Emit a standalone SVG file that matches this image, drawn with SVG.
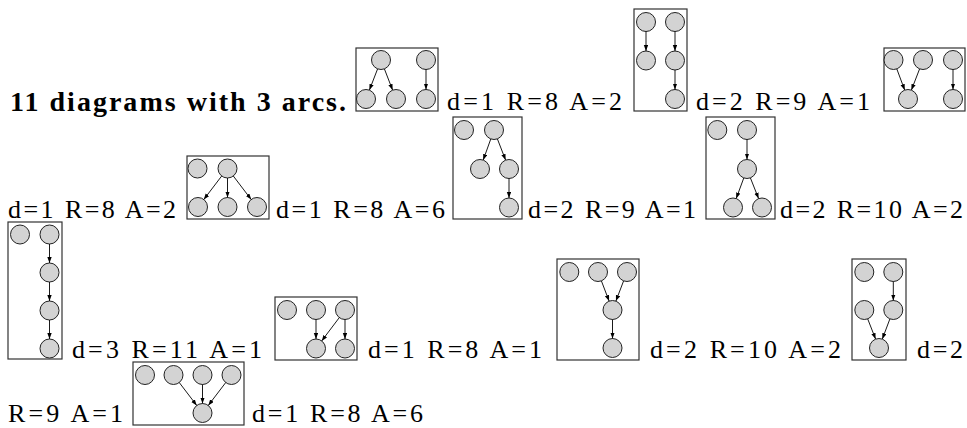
<svg xmlns="http://www.w3.org/2000/svg" width="967" height="428" viewBox="0 0 967 428">
<style>
.t{font-family:"Liberation Serif","Times New Roman",serif;font-size:26px;fill:#000}
.b{font-weight:bold;font-size:28px}
.box{fill:none;stroke:#333;stroke-width:1.2}
.n{fill:#d3d3d3;stroke:#222;stroke-width:1}
.e{stroke:#000;stroke-width:0.9;fill:none;marker-end:url(#ah)}
</style>
<defs>
<marker id="ah" markerUnits="userSpaceOnUse" markerWidth="7" markerHeight="5" refX="6" refY="2.2" orient="auto">
<path d="M0,0 L6,2.2 L0,4.4 z" fill="#000"/>
</marker>
</defs>
<rect width="967" height="428" fill="#fff"/>
<g id="labels">
<text class="t b" x="10" y="111" textLength="336" lengthAdjust="spacing">11 diagrams with 3 arcs.</text>
<text class="t" x="447" y="110" textLength="175" lengthAdjust="spacing">d=1 R=8 A=2</text>
<text class="t" x="696" y="110" textLength="174" lengthAdjust="spacing">d=2 R=9 A=1</text>
<text class="t" x="8" y="218" textLength="168" lengthAdjust="spacing">d=1 R=8 A=2</text>
<text class="t" x="276" y="218" textLength="169" lengthAdjust="spacing">d=1 R=8 A=6</text>
<text class="t" x="528" y="218" textLength="168" lengthAdjust="spacing">d=2 R=9 A=1</text>
<text class="t" x="780" y="218" textLength="183" lengthAdjust="spacing">d=2 R=10 A=2</text>
<text class="t" x="72" y="358" textLength="190" lengthAdjust="spacing">d=3 R=11 A=1</text>
<text class="t" x="368" y="358" textLength="174" lengthAdjust="spacing">d=1 R=8 A=1</text>
<text class="t" x="650" y="358" textLength="191" lengthAdjust="spacing">d=2 R=10 A=2</text>
<text class="t" x="917" y="358" textLength="46" lengthAdjust="spacing">d=2</text>
<text class="t" x="8" y="422" textLength="115" lengthAdjust="spacing">R=9 A=1</text>
<text class="t" x="252" y="422" textLength="171" lengthAdjust="spacing">d=1 R=8 A=6</text>
</g>
<g id="d1">
<rect class="box" x="356" y="48" width="82" height="63"/>
<circle id="d1n1" class="n" cx="381" cy="60" r="9.5"/>
<circle id="d1n2" class="n" cx="426" cy="60" r="9.5"/>
<circle id="d1n3" class="n" cx="366" cy="99" r="9.5"/>
<circle id="d1n4" class="n" cx="396" cy="99" r="9.5"/>
<circle id="d1n5" class="n" cx="426" cy="99" r="9.5"/>
</g>
<g id="d2">
<rect class="box" x="634" y="9" width="53" height="102"/>
<circle id="d2n1" class="n" cx="646" cy="22" r="9.5"/>
<circle id="d2n2" class="n" cx="675" cy="22" r="9.5"/>
<circle id="d2n3" class="n" cx="646" cy="60.5" r="9.5"/>
<circle id="d2n4" class="n" cx="675" cy="60.5" r="9.5"/>
<circle id="d2n5" class="n" cx="675" cy="99" r="9.5"/>
</g>
<g id="d3">
<rect class="box" x="884" y="48" width="81" height="63"/>
<circle id="d3n1" class="n" cx="893.5" cy="60" r="9.5"/>
<circle id="d3n2" class="n" cx="923" cy="60" r="9.5"/>
<circle id="d3n3" class="n" cx="953" cy="60" r="9.5"/>
<circle id="d3n4" class="n" cx="908" cy="99" r="9.5"/>
<circle id="d3n5" class="n" cx="953" cy="99" r="9.5"/>
</g>
<g id="d4">
<rect class="box" x="187" y="156" width="82" height="63"/>
<circle id="d4n1" class="n" cx="197.5" cy="168.5" r="9.5"/>
<circle id="d4n2" class="n" cx="227.5" cy="168.5" r="9.5"/>
<circle id="d4n3" class="n" cx="198" cy="207" r="9.5"/>
<circle id="d4n4" class="n" cx="227.5" cy="207" r="9.5"/>
<circle id="d4n5" class="n" cx="257" cy="207" r="9.5"/>
</g>
<g id="d5">
<rect class="box" x="453" y="117" width="69" height="102"/>
<circle id="d5n1" class="n" cx="464" cy="130" r="9.5"/>
<circle id="d5n2" class="n" cx="494" cy="130" r="9.5"/>
<circle id="d5n3" class="n" cx="480" cy="169" r="9.5"/>
<circle id="d5n4" class="n" cx="509" cy="169" r="9.5"/>
<circle id="d5n5" class="n" cx="509" cy="207.5" r="9.5"/>
</g>
<g id="d6">
<rect class="box" x="706" y="117" width="69" height="102"/>
<circle id="d6n1" class="n" cx="717.3" cy="130" r="9.5"/>
<circle id="d6n2" class="n" cx="747" cy="130" r="9.5"/>
<circle id="d6n3" class="n" cx="747" cy="169" r="9.5"/>
<circle id="d6n4" class="n" cx="733" cy="207.5" r="9.5"/>
<circle id="d6n5" class="n" cx="762" cy="207.5" r="9.5"/>
</g>
<g id="d7">
<rect class="box" x="8" y="222" width="54" height="137"/>
<circle id="d7n1" class="n" cx="20" cy="234.5" r="9.5"/>
<circle id="d7n2" class="n" cx="49.5" cy="234.5" r="9.5"/>
<circle id="d7n3" class="n" cx="49.5" cy="272.5" r="9.5"/>
<circle id="d7n4" class="n" cx="49.5" cy="310.5" r="9.5"/>
<circle id="d7n5" class="n" cx="49.5" cy="348.5" r="9.5"/>
</g>
<g id="d8">
<rect class="box" x="275" y="297" width="82" height="63"/>
<circle id="d8n1" class="n" cx="287" cy="310" r="9.5"/>
<circle id="d8n2" class="n" cx="316" cy="310" r="9.5"/>
<circle id="d8n3" class="n" cx="345" cy="310" r="9.5"/>
<circle id="d8n4" class="n" cx="316" cy="348.5" r="9.5"/>
<circle id="d8n5" class="n" cx="345" cy="348.5" r="9.5"/>
</g>
<g id="d9">
<rect class="box" x="557" y="259" width="82" height="101"/>
<circle id="d9n1" class="n" cx="569.3" cy="272" r="9.5"/>
<circle id="d9n2" class="n" cx="598" cy="272" r="9.5"/>
<circle id="d9n3" class="n" cx="627" cy="272" r="9.5"/>
<circle id="d9n4" class="n" cx="612.5" cy="310" r="9.5"/>
<circle id="d9n5" class="n" cx="612.5" cy="348" r="9.5"/>
</g>
<g id="d10">
<rect class="box" x="852" y="259" width="54" height="101"/>
<circle id="d10n1" class="n" cx="864.3" cy="272" r="9.5"/>
<circle id="d10n2" class="n" cx="893.3" cy="272" r="9.5"/>
<circle id="d10n3" class="n" cx="864.3" cy="310" r="9.5"/>
<circle id="d10n4" class="n" cx="893.3" cy="310" r="9.5"/>
<circle id="d10n5" class="n" cx="879" cy="348" r="9.5"/>
</g>
<g id="d11">
<rect class="box" x="133" y="362" width="111" height="63"/>
<circle id="d11n1" class="n" cx="145" cy="375" r="9.5"/>
<circle id="d11n2" class="n" cx="173.5" cy="375" r="9.5"/>
<circle id="d11n3" class="n" cx="202.5" cy="375" r="9.5"/>
<circle id="d11n4" class="n" cx="231.5" cy="375" r="9.5"/>
<circle id="d11n5" class="n" cx="202.5" cy="413" r="9.5"/>
</g>
<g id="connectors">
<line class="e" x1="377.6" y1="68.9" x2="369.4" y2="90.1"/>
<line class="e" x1="384.4" y1="68.9" x2="392.6" y2="90.1"/>
<line class="e" x1="426" y1="69.5" x2="426" y2="89.5"/>
<line class="e" x1="646" y1="31.5" x2="646" y2="51"/>
<line class="e" x1="675" y1="31.5" x2="675" y2="51"/>
<line class="e" x1="675" y1="70" x2="675" y2="89.5"/>
<line class="e" x1="896.8" y1="68.9" x2="904.7" y2="90.1"/>
<line class="e" x1="919.6" y1="68.9" x2="911.4" y2="90.1"/>
<line class="e" x1="953" y1="69.5" x2="953" y2="89.5"/>
<line class="e" x1="221.7" y1="176" x2="203.8" y2="199.5"/>
<line class="e" x1="227.5" y1="178" x2="227.5" y2="197.5"/>
<line class="e" x1="233.3" y1="176" x2="251.2" y2="199.5"/>
<line class="e" x1="490.8" y1="138.9" x2="483.2" y2="160.1"/>
<line class="e" x1="497.4" y1="138.9" x2="505.6" y2="160.1"/>
<line class="e" x1="509" y1="178.5" x2="509" y2="198"/>
<line class="e" x1="747" y1="139.5" x2="747" y2="159.5"/>
<line class="e" x1="743.8" y1="177.9" x2="736.2" y2="198.6"/>
<line class="e" x1="750.4" y1="177.9" x2="758.6" y2="198.6"/>
<line class="e" x1="49.5" y1="244" x2="49.5" y2="263"/>
<line class="e" x1="49.5" y1="282" x2="49.5" y2="301"/>
<line class="e" x1="49.5" y1="320" x2="49.5" y2="339"/>
<line class="e" x1="316" y1="319.5" x2="316" y2="339"/>
<line class="e" x1="339.3" y1="317.6" x2="321.7" y2="340.9"/>
<line class="e" x1="345" y1="319.5" x2="345" y2="339"/>
<line class="e" x1="601.4" y1="280.9" x2="609.1" y2="301.1"/>
<line class="e" x1="623.6" y1="280.9" x2="615.9" y2="301.1"/>
<line class="e" x1="612.5" y1="319.5" x2="612.5" y2="338.5"/>
<line class="e" x1="893.3" y1="281.5" x2="893.3" y2="300.5"/>
<line class="e" x1="867.7" y1="318.9" x2="875.6" y2="339.1"/>
<line class="e" x1="889.9" y1="318.9" x2="882.3" y2="339.1"/>
<line class="e" x1="179.3" y1="382.6" x2="196.7" y2="405.4"/>
<line class="e" x1="202.5" y1="384.5" x2="202.5" y2="403.5"/>
<line class="e" x1="225.7" y1="382.6" x2="208.3" y2="405.4"/>
</g>
</svg>
